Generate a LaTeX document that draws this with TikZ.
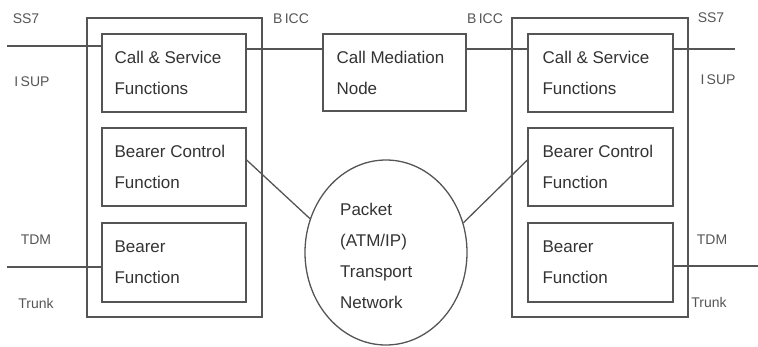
\documentclass[tikz,border=0pt]{standalone}
\usepackage{fontspec}
\setmainfont{Liberation Sans}
\usetikzlibrary{shapes.geometric}
\definecolor{ln}{HTML}{555555}
\definecolor{tx}{HTML}{333333}
\definecolor{lb}{HTML}{555555}
\begin{document}
\begin{tikzpicture}[x=1pt,y=-1pt,
  fbox/.style={draw=ln, line width=1.3pt, minimum width=144pt, minimum height=78pt, inner sep=0pt},
  obox/.style={draw=ln, line width=1.3pt, minimum width=175pt, minimum height=299pt, inner sep=0pt},
  ftext/.style={text=tx, font=\fontsize{17}{31}\selectfont, align=left, anchor=west, inner sep=0pt},
  lbl/.style={text=lb, font=\fontsize{14}{16}\selectfont, inner sep=0pt},
  wire/.style={draw=ln, line width=1.3pt}]
\useasboundingbox (0,0) rectangle (758,346);
% outer boxes
\node[obox] (lo) at (174.5,167.5) {};
\node[obox, minimum width=176pt] (ro) at (600,167.5) {};
% inner boxes left
\node[fbox] (lcs) at (174,73) {};
\node[fbox] (lbc) at (174,167) {};
\node[fbox, minimum height=79pt] (lb) at (174,262.5) {};
% inner boxes right
\node[fbox, minimum width=145pt] (rcs) at (600.5,73) {};
\node[fbox, minimum width=145pt] (rbc) at (600.5,167) {};
\node[fbox, minimum width=145pt, minimum height=79pt] (rb) at (600.5,262.5) {};
% mediation node
\node[fbox, minimum width=143pt, minimum height=77pt] (cmn) at (394.5,72.5) {};
% network ellipse
\node[ellipse, draw=ln, line width=1.3pt, minimum width=162pt, minimum height=185pt, inner sep=0pt] (net) at (386,252.5) {};
% texts
\node[ftext] (tlcs) at ([xshift=13pt]lcs.west) {Call \& Service\\Functions};
\node[ftext] (tlbc) at ([xshift=13pt]lbc.west) {Bearer Control\\Function};
\node[ftext] (tlb) at ([xshift=13pt]lb.west) {Bearer\\Function};
\node[ftext] (trcs) at ([xshift=15pt]rcs.west) {Call \& Service\\Functions};
\node[ftext] (trbc) at ([xshift=15pt]rbc.west) {Bearer Control\\Function};
\node[ftext] (trb) at ([xshift=15pt]rb.west) {Bearer\\Function};
\node[ftext] (tcmn) at ([xshift=14pt]cmn.west) {Call Mediation\\Node};
\node[ftext] (tnet) at (340,255.5) {Packet\\(ATM/IP)\\Transport\\Network};
% labels
\node[lbl] (ss7l) at (26,19) {SS7};
\node[lbl] (isupl) at (32,82) {I\,SUP};
\node[lbl] (bicc1) at (291,19) {B\,ICC};
\node[lbl] (bicc2) at (485,19) {B\,ICC};
\node[lbl] (ss7r) at (711,18) {SS7};
\node[lbl] (isupr) at (718,80) {I\,SUP};
\node[lbl] (tdml) at (36,240) {TDM};
\node[lbl] (trunkl) at (36,303) {Trunk};
\node[lbl] (tdmr) at (712,240) {TDM};
\node[lbl] (trunkr) at (709,302) {Trunk};
% wires
\coordinate (sl) at (7,46);
\coordinate (y49) at (0,49);
\coordinate (sr) at (735,49);
\coordinate (tl) at (7,267);
\coordinate (tr) at (758,266);
\draw[wire] (sl) -- (sl -| lcs.west);
\draw[wire] (lcs.east |- y49) -- (cmn.west |- y49);
\draw[wire] (cmn.east |- y49) -- (rcs.west |- y49);
\draw[wire] (rcs.east |- sr) -- (sr);
\draw[wire] (tl) -- (tl -| lb.west);
\draw[wire] (rb.east |- tr) -- (tr);
\draw[wire] ([yshift=7pt]lbc.east) -- (net.156);
\draw[wire] ([yshift=7pt]rbc.west) -- (net.21);
\end{tikzpicture}
\end{document}
